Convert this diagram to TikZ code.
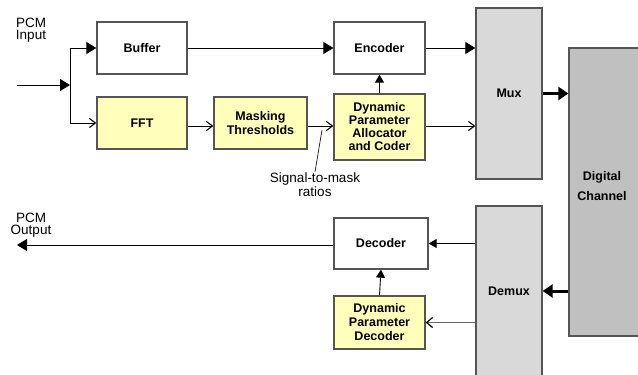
\documentclass[tikz,border=0pt]{standalone}
\usepackage{fontspec}
\setmainfont{Liberation Sans}
\usetikzlibrary{arrows.meta}
\definecolor{boxyellow}{HTML}{FFFFBB}
\definecolor{muxgray}{HTML}{D9D9D9}
\definecolor{chgray}{HTML}{C0C0C0}
\definecolor{edgegray}{HTML}{555555}
\definecolor{linegray}{HTML}{666666}
\tikzset{
  blk/.style={draw=edgegray, line width=1.3pt, fill=white, inner sep=0pt,
    align=center, font=\fontsize{12.5}{14}\selectfont\bfseries},
  yblk/.style={blk, fill=boxyellow},
  mbox/.style={blk, fill=muxgray},
  lbl/.style={inner sep=0pt, align=center, font=\fontsize{13.5}{12}\selectfont},
  sig/.style={line width=0.9pt, -{Triangle[length=10pt,width=12pt]}},
  sigs/.style={line width=0.9pt, -{Triangle[length=8pt,width=9pt]}},
  barb/.style={line width=0.9pt, -{Straight Barb[length=6pt,width=9pt,line width=1.1pt]}},
  fat/.style={line width=3pt, -{Triangle[length=10pt,width=13pt]}},
}
\begin{document}
\begin{tikzpicture}[x=1pt,y=-1pt]
\useasboundingbox (0,0) rectangle (638,375);

% encoder path
\node[blk, minimum width=90, minimum height=52] (buf) at (142,48) {Buffer};
\node[yblk, minimum width=90, minimum height=52] (fft) at (142,123) {FFT};
\node[yblk, minimum width=93, minimum height=52] (mask) at (260.5,123) {Masking\\Thresholds};
\node[blk, minimum width=91, minimum height=52] (enc) at (379.5,48) {Encoder};
\node[yblk, minimum width=91, minimum height=66, font=\fontsize{12.5}{13}\selectfont\bfseries] (alloc) at (379.5,127) {Dynamic\\Parameter\\Allocator\\and Coder};
\node[mbox, minimum width=66, minimum height=171] (mux) at (509,93.5) {Mux};

% channel
\node[blk, fill=chgray, minimum width=74, minimum height=288,
  label={[font=\fontsize{12.5}{20}\selectfont\bfseries, align=center, yshift=6, xshift=-4]center:Digital\\Channel}] (dig) at (606,192) {};

% decoder path
\node[mbox, minimum width=66, minimum height=170] (demux) at (509,291) {Demux};
\node[blk, minimum width=94, minimum height=51] (dec) at (381,243.5) {Decoder};
\node[yblk, minimum width=91, minimum height=53] (pdec) at (379.5,322.5) {Dynamic\\Parameter\\Decoder};

% labels
\node[lbl] (pin) at (31,30) {PCM\\Input};
\node[lbl] (pout) at (31,225) {PCM\\Output};
\node[lbl, anchor=north] (smr) at (315,173) {Signal-to-mask\\ratios};

% input split
\coordinate (in) at (17,85);
\coordinate (j) at (70,85);
\draw[sig] (in) -- (j);
\draw[line width=0.9pt] (j |- buf.west) -- (j |- fft.west);
\draw[sig] (j |- buf.west) -- (buf.west);
\draw[barb] (j |- fft.west) -- (fft.west);

% encoder connectors
\draw[barb] ([yshift=-3]fft.east) -- ([yshift=-3]mask.west);
\draw[barb] ([yshift=-3]mask.east) -- ([yshift=-3]mask.east -| alloc.west);
\draw[sig] (buf.east) -- (enc.west);
\draw[sig] (enc.east) -- (enc.east -| mux.west);
\draw[sigs] (alloc.north) -- (enc.south);
\draw[barb] ([yshift=-3]alloc.east |- mask.east) -- ([yshift=-3]mask.east -| mux.west);
\draw[fat] (mux.east) -- (mux.east -| dig.west);

% pointer for the ratios label
\coordinate (ptr) at (322,130);
\draw[line width=0.6pt] (smr.north) ++(0,-1) -- (ptr);

% decoder connectors
\draw[fat] (dig.west |- demux.east) -- (demux.east);
\draw[sigs] (demux.west |- dec.east) -- (dec.east);
\draw[line width=1.8pt, draw=linegray, -{Straight Barb[length=6pt,width=10pt,line width=1.2pt,color=black]}] (demux.west |- pdec.east) -- (pdec.east);
\draw[sigs] (pdec.north) -- (dec.south);
\coordinate (out) at (17,245);
\draw[sig] (dec.west |- out) -- (out);
\end{tikzpicture}
\end{document}
